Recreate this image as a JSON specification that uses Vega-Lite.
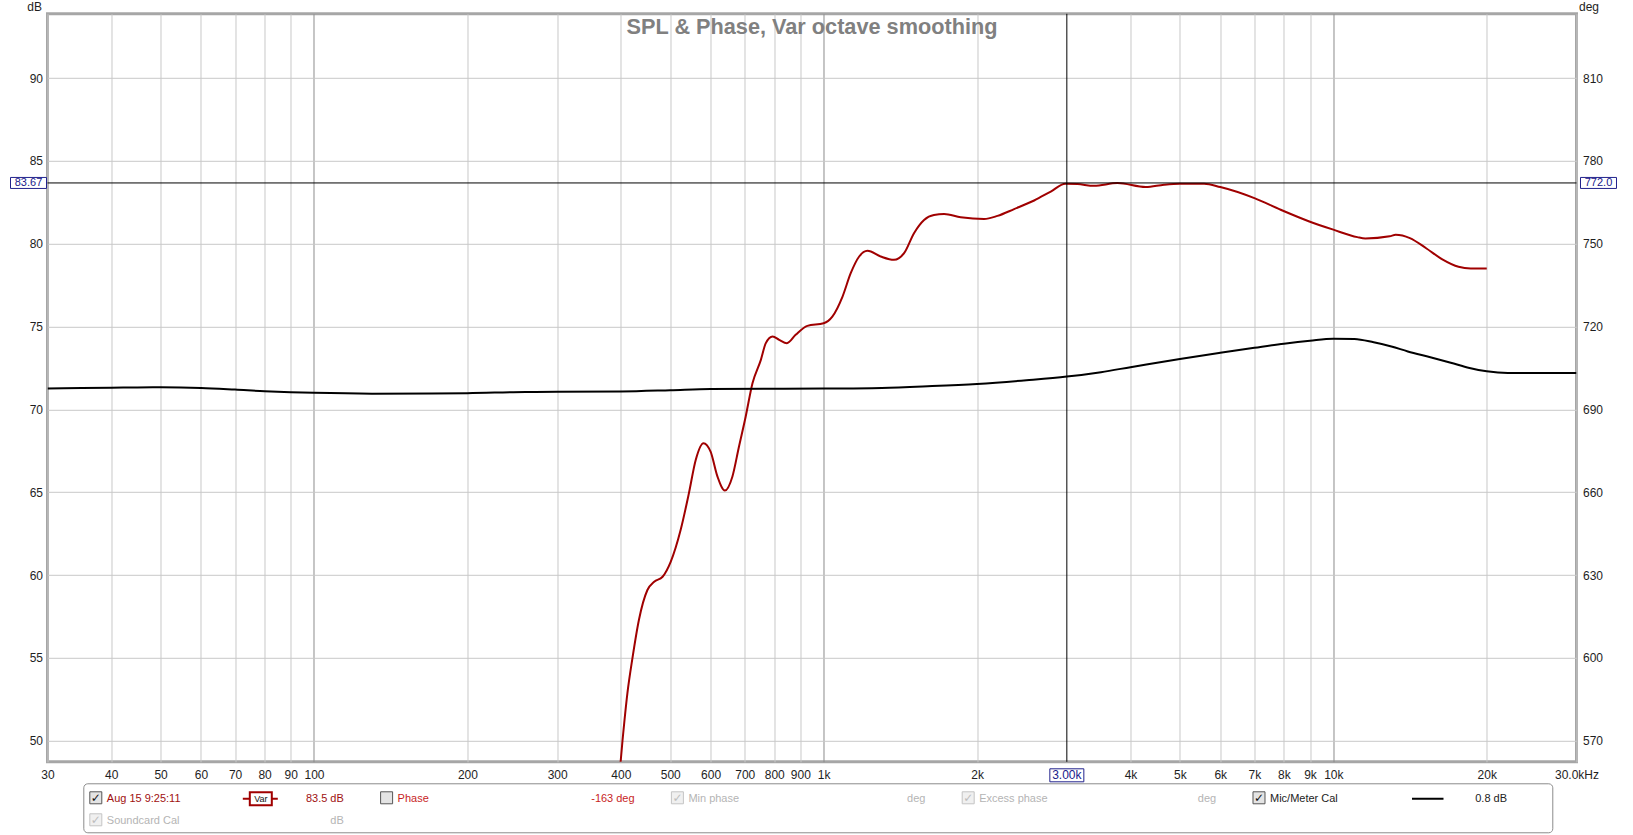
{
  "$schema": "https://vega.github.io/schema/vega-lite/v6.json",
  "background": "white",
  "padding": {"left": 6.5, "top": -1.2, "right": 0, "bottom": 0},
  "bounds": "flush",
  "spacing": 22,
  "config": {
    "font": "Liberation Sans",
    "axis": {"labelFont": "Liberation Sans", "labelFontSize": 12, "labelColor": "#1e1e1e", "titleFont": "Liberation Sans", "titleFontSize": 12, "titleFontWeight": "normal", "titleColor": "#1e1e1e", "ticks": false, "tickSize": 0, "domain": false, "gridColor": "#c8c8c8", "gridWidth": 1, "gridOpacity": 1},
    "view": {"stroke": "#a6a6a6", "strokeWidth": 3},
    "text": {"font": "Liberation Sans"}
  },
  "datasets": {
    "curves": [
      {"series": "Aug 15 9:25:11", "freq": 395, "dB": 47.0},
      {"series": "Aug 15 9:25:11", "freq": 403, "dB": 50.0},
      {"series": "Aug 15 9:25:11", "freq": 412, "dB": 52.86},
      {"series": "Aug 15 9:25:11", "freq": 421.6, "dB": 55.0},
      {"series": "Aug 15 9:25:11", "freq": 434, "dB": 57.29},
      {"series": "Aug 15 9:25:11", "freq": 451, "dB": 59.1},
      {"series": "Aug 15 9:25:11", "freq": 465, "dB": 59.6},
      {"series": "Aug 15 9:25:11", "freq": 483, "dB": 59.9},
      {"series": "Aug 15 9:25:11", "freq": 501, "dB": 60.8},
      {"series": "Aug 15 9:25:11", "freq": 524, "dB": 62.72},
      {"series": "Aug 15 9:25:11", "freq": 544, "dB": 64.94},
      {"series": "Aug 15 9:25:11", "freq": 561, "dB": 66.95},
      {"series": "Aug 15 9:25:11", "freq": 581, "dB": 67.96},
      {"series": "Aug 15 9:25:11", "freq": 600, "dB": 67.45},
      {"series": "Aug 15 9:25:11", "freq": 619, "dB": 65.94},
      {"series": "Aug 15 9:25:11", "freq": 640, "dB": 65.1},
      {"series": "Aug 15 9:25:11", "freq": 662, "dB": 65.94},
      {"series": "Aug 15 9:25:11", "freq": 682, "dB": 67.75},
      {"series": "Aug 15 9:25:11", "freq": 703, "dB": 69.56},
      {"series": "Aug 15 9:25:11", "freq": 725, "dB": 71.58},
      {"series": "Aug 15 9:25:11", "freq": 753, "dB": 72.99},
      {"series": "Aug 15 9:25:11", "freq": 770, "dB": 74.0},
      {"series": "Aug 15 9:25:11", "freq": 794, "dB": 74.4},
      {"series": "Aug 15 9:25:11", "freq": 818, "dB": 74.2},
      {"series": "Aug 15 9:25:11", "freq": 847, "dB": 74.0},
      {"series": "Aug 15 9:25:11", "freq": 881, "dB": 74.5},
      {"series": "Aug 15 9:25:11", "freq": 929, "dB": 75.04},
      {"series": "Aug 15 9:25:11", "freq": 1000, "dB": 75.2},
      {"series": "Aug 15 9:25:11", "freq": 1040, "dB": 75.6},
      {"series": "Aug 15 9:25:11", "freq": 1089, "dB": 76.81},
      {"series": "Aug 15 9:25:11", "freq": 1130, "dB": 78.22},
      {"series": "Aug 15 9:25:11", "freq": 1174, "dB": 79.23},
      {"series": "Aug 15 9:25:11", "freq": 1219, "dB": 79.57},
      {"series": "Aug 15 9:25:11", "freq": 1294, "dB": 79.23},
      {"series": "Aug 15 9:25:11", "freq": 1374, "dB": 79.03},
      {"series": "Aug 15 9:25:11", "freq": 1438, "dB": 79.43},
      {"series": "Aug 15 9:25:11", "freq": 1504, "dB": 80.64},
      {"series": "Aug 15 9:25:11", "freq": 1574, "dB": 81.44},
      {"series": "Aug 15 9:25:11", "freq": 1646, "dB": 81.74},
      {"series": "Aug 15 9:25:11", "freq": 1723, "dB": 81.79},
      {"series": "Aug 15 9:25:11", "freq": 1857, "dB": 81.6},
      {"series": "Aug 15 9:25:11", "freq": 2064, "dB": 81.49},
      {"series": "Aug 15 9:25:11", "freq": 2193, "dB": 81.68},
      {"series": "Aug 15 9:25:11", "freq": 2364, "dB": 82.09},
      {"series": "Aug 15 9:25:11", "freq": 2588, "dB": 82.61},
      {"series": "Aug 15 9:25:11", "freq": 2790, "dB": 83.15},
      {"series": "Aug 15 9:25:11", "freq": 2980, "dB": 83.62},
      {"series": "Aug 15 9:25:11", "freq": 3148, "dB": 83.6},
      {"series": "Aug 15 9:25:11", "freq": 3393, "dB": 83.5},
      {"series": "Aug 15 9:25:11", "freq": 3771, "dB": 83.66},
      {"series": "Aug 15 9:25:11", "freq": 4284, "dB": 83.42},
      {"series": "Aug 15 9:25:11", "freq": 4654, "dB": 83.56},
      {"series": "Aug 15 9:25:11", "freq": 5000, "dB": 83.62},
      {"series": "Aug 15 9:25:11", "freq": 5578, "dB": 83.62},
      {"series": "Aug 15 9:25:11", "freq": 6000, "dB": 83.42},
      {"series": "Aug 15 9:25:11", "freq": 7000, "dB": 82.75},
      {"series": "Aug 15 9:25:11", "freq": 7884, "dB": 82.05},
      {"series": "Aug 15 9:25:11", "freq": 8946, "dB": 81.36},
      {"series": "Aug 15 9:25:11", "freq": 10000, "dB": 80.85},
      {"series": "Aug 15 9:25:11", "freq": 11145, "dB": 80.4},
      {"series": "Aug 15 9:25:11", "freq": 11557, "dB": 80.32},
      {"series": "Aug 15 9:25:11", "freq": 12900, "dB": 80.45},
      {"series": "Aug 15 9:25:11", "freq": 13257, "dB": 80.54},
      {"series": "Aug 15 9:25:11", "freq": 14134, "dB": 80.34},
      {"series": "Aug 15 9:25:11", "freq": 15208, "dB": 79.73},
      {"series": "Aug 15 9:25:11", "freq": 16363, "dB": 79.06},
      {"series": "Aug 15 9:25:11", "freq": 17604, "dB": 78.61},
      {"series": "Aug 15 9:25:11", "freq": 18600, "dB": 78.51},
      {"series": "Aug 15 9:25:11", "freq": 20000, "dB": 78.51},
      {"series": "Mic/Meter Cal", "freq": 30, "dB": 71.27},
      {"series": "Mic/Meter Cal", "freq": 35, "dB": 71.29},
      {"series": "Mic/Meter Cal", "freq": 40, "dB": 71.31},
      {"series": "Mic/Meter Cal", "freq": 45, "dB": 71.33},
      {"series": "Mic/Meter Cal", "freq": 50, "dB": 71.34},
      {"series": "Mic/Meter Cal", "freq": 60, "dB": 71.3},
      {"series": "Mic/Meter Cal", "freq": 70, "dB": 71.2},
      {"series": "Mic/Meter Cal", "freq": 80, "dB": 71.1},
      {"series": "Mic/Meter Cal", "freq": 90, "dB": 71.04},
      {"series": "Mic/Meter Cal", "freq": 100, "dB": 71.0},
      {"series": "Mic/Meter Cal", "freq": 130, "dB": 70.95},
      {"series": "Mic/Meter Cal", "freq": 170, "dB": 70.96},
      {"series": "Mic/Meter Cal", "freq": 200, "dB": 70.98},
      {"series": "Mic/Meter Cal", "freq": 260, "dB": 71.05},
      {"series": "Mic/Meter Cal", "freq": 300, "dB": 71.06},
      {"series": "Mic/Meter Cal", "freq": 400, "dB": 71.08},
      {"series": "Mic/Meter Cal", "freq": 500, "dB": 71.16},
      {"series": "Mic/Meter Cal", "freq": 600, "dB": 71.24},
      {"series": "Mic/Meter Cal", "freq": 800, "dB": 71.25},
      {"series": "Mic/Meter Cal", "freq": 1000, "dB": 71.26},
      {"series": "Mic/Meter Cal", "freq": 1300, "dB": 71.3},
      {"series": "Mic/Meter Cal", "freq": 1600, "dB": 71.4},
      {"series": "Mic/Meter Cal", "freq": 2000, "dB": 71.54},
      {"series": "Mic/Meter Cal", "freq": 2500, "dB": 71.76},
      {"series": "Mic/Meter Cal", "freq": 3000, "dB": 71.98},
      {"series": "Mic/Meter Cal", "freq": 3500, "dB": 72.25},
      {"series": "Mic/Meter Cal", "freq": 4000, "dB": 72.55},
      {"series": "Mic/Meter Cal", "freq": 5000, "dB": 73.05},
      {"series": "Mic/Meter Cal", "freq": 6000, "dB": 73.42},
      {"series": "Mic/Meter Cal", "freq": 7000, "dB": 73.72},
      {"series": "Mic/Meter Cal", "freq": 8000, "dB": 73.97},
      {"series": "Mic/Meter Cal", "freq": 9000, "dB": 74.15},
      {"series": "Mic/Meter Cal", "freq": 10000, "dB": 74.27},
      {"series": "Mic/Meter Cal", "freq": 11000, "dB": 74.25},
      {"series": "Mic/Meter Cal", "freq": 12000, "dB": 74.05},
      {"series": "Mic/Meter Cal", "freq": 13000, "dB": 73.8},
      {"series": "Mic/Meter Cal", "freq": 14000, "dB": 73.5},
      {"series": "Mic/Meter Cal", "freq": 15500, "dB": 73.15},
      {"series": "Mic/Meter Cal", "freq": 17000, "dB": 72.82},
      {"series": "Mic/Meter Cal", "freq": 18500, "dB": 72.5},
      {"series": "Mic/Meter Cal", "freq": 20000, "dB": 72.3},
      {"series": "Mic/Meter Cal", "freq": 22000, "dB": 72.2},
      {"series": "Mic/Meter Cal", "freq": 30000, "dB": 72.2}
    ],
    "cursor": [{"freq": 3000, "dB": 83.67, "deg": 772.0, "freqLabel": "3.00k"}],
    "legendItems": [
      {"col": 0, "row": 0, "name": "Aug 15 9:25:11", "value": "83.5 dB", "state": "data", "check": "on", "symbol": "var"},
      {"col": 1, "row": 0, "name": "Phase", "value": "-163 deg", "state": "phase", "check": "off", "symbol": "none"},
      {"col": 2, "row": 0, "name": "Min phase", "value": "deg", "state": "disabled", "check": "on", "symbol": "none"},
      {"col": 3, "row": 0, "name": "Excess phase", "value": "deg", "state": "disabled", "check": "on", "symbol": "none"},
      {"col": 4, "row": 0, "name": "Mic/Meter Cal", "value": "0.8 dB", "state": "cal", "check": "on", "symbol": "line"},
      {"col": 0, "row": 1, "name": "Soundcard Cal", "value": "dB", "state": "disabled", "check": "on", "symbol": "none"}
    ]
  },
  "vconcat": [
    {
      "width": 1529,
      "height": 748,
      "title": {"text": "SPL & Phase, Var octave smoothing", "font": "Liberation Sans", "fontSize": 21.7, "fontWeight": "bold", "color": "#808080", "anchor": "middle", "frame": "group", "offset": -38},
      "layer": [
        {
          "layer": [
            {
              "data": {"name": "curves"},
              "mark": {"type": "line", "clip": true, "interpolate": "monotone", "strokeWidth": 2},
              "encoding": {
                "x": {"field": "freq", "type": "quantitative", "scale": {"type": "log", "domain": [30, 30000], "nice": false},
                  "axis": {"title": null, "values": [30, 40, 50, 60, 70, 80, 90, 100, 200, 300, 400, 500, 600, 700, 800, 900, 1000, 2000, 4000, 5000, 6000, 7000, 8000, 9000, 10000, 20000, 30000], "grid": true,
                    "gridColor": {"condition": {"test": "datum.value == 100 || datum.value == 1000 || datum.value == 10000", "value": "#8c8c8c"}, "value": "#c8c8c8"},
                    "labelExpr": "datum.value >= 30000 ? '30.0kHz' : (datum.value >= 1000 ? (datum.value / 1000) + 'k' : '' + datum.value)",
                    "labelFlush": false, "labelOverlap": false, "labelBound": false, "labelPadding": 8}},
                "y": {"field": "dB", "type": "quantitative", "scale": {"domain": [48.73, 93.88], "nice": false, "zero": false},
                  "axis": {"orient": "left", "values": [50, 55, 60, 65, 70, 75, 80, 85, 90], "grid": true, "title": "dB", "titleAngle": 0, "titleAlign": "right", "titleBaseline": "alphabetic", "titleX": -6, "titleY": -3.5, "labelPadding": 5}},
                "color": {"field": "series", "type": "nominal", "scale": {"domain": ["Aug 15 9:25:11", "Mic/Meter Cal"], "range": ["#a00000", "#000000"]}, "legend": null}
              }
            },
            {
              "data": {"name": "cursor"},
              "mark": {"type": "rule", "color": "#000000", "strokeWidth": 1},
              "encoding": {"x": {"field": "freq", "type": "quantitative"}}
            },
            {
              "data": {"name": "cursor"},
              "mark": {"type": "rule", "color": "#000000", "strokeWidth": 1},
              "encoding": {"y": {"field": "dB", "type": "quantitative"}}
            },
            {
              "data": {"name": "cursor"},
              "mark": {"type": "point", "shape": "M-37,-5.5H-1V5.5H-37Z", "size": 4, "filled": true, "fill": "white", "stroke": "#20208c", "strokeWidth": 1, "opacity": 1},
              "encoding": {"x": {"datum": 30, "type": "quantitative"}, "y": {"field": "dB", "type": "quantitative"}}
            },
            {
              "data": {"name": "cursor"},
              "mark": {"type": "text", "dx": -19, "align": "center", "baseline": "middle", "fontSize": 11, "color": "#20208c"},
              "encoding": {"x": {"datum": 30, "type": "quantitative"}, "y": {"field": "dB", "type": "quantitative"}, "text": {"field": "dB", "type": "quantitative", "format": ".2f"}}
            },
            {
              "data": {"name": "cursor"},
              "mark": {"type": "point", "shape": "M4,-5.5H40V5.5H4Z", "size": 4, "filled": true, "fill": "white", "stroke": "#20208c", "strokeWidth": 1, "opacity": 1},
              "encoding": {"x": {"datum": 30000, "type": "quantitative"}, "y": {"field": "dB", "type": "quantitative"}}
            },
            {
              "data": {"name": "cursor"},
              "mark": {"type": "text", "dx": 22, "align": "center", "baseline": "middle", "fontSize": 11, "color": "#20208c"},
              "encoding": {"x": {"datum": 30000, "type": "quantitative"}, "y": {"field": "dB", "type": "quantitative"}, "text": {"field": "deg", "type": "quantitative", "format": ".1f"}}
            },
            {
              "data": {"name": "cursor"},
              "mark": {"type": "point", "shape": "M-17,7H17V20H-17Z", "size": 4, "filled": true, "fill": "white", "stroke": "#20208c", "strokeWidth": 1, "opacity": 1},
              "encoding": {"x": {"field": "freq", "type": "quantitative"}, "y": {"datum": 48.73, "type": "quantitative"}}
            },
            {
              "data": {"name": "cursor"},
              "mark": {"type": "text", "dy": 13.5, "align": "center", "baseline": "middle", "fontSize": 12, "color": "#20208c"},
              "encoding": {"x": {"field": "freq", "type": "quantitative"}, "y": {"datum": 48.73, "type": "quantitative"}, "text": {"field": "freqLabel", "type": "nominal"}}
            }
          ]
        },
        {
          "data": {"name": "cursor"},
          "mark": {"type": "rule", "opacity": 0},
          "encoding": {
            "y": {"field": "deg", "type": "quantitative", "scale": {"domain": [562.38, 833.28], "nice": false, "zero": false},
              "axis": {"orient": "right", "values": [570, 600, 630, 660, 690, 720, 750, 780, 810], "grid": false, "title": "deg", "titleAngle": 0, "titleAlign": "left", "titleBaseline": "alphabetic", "titleX": 2, "titleY": -3.5, "labelPadding": 6}}
          }
        }
      ],
      "resolve": {"scale": {"y": "independent"}, "axis": {"y": "independent"}}
    },
    {
      "width": 1510,
      "height": 49,
      "view": {"stroke": null},
      "data": {"name": "legendItems"},
      "encoding": {
        "x": {"field": "col", "type": "quantitative", "scale": {"domain": [-0.16609, 5.02648], "nice": false, "zero": false}, "axis": null},
        "y": {"field": "row", "type": "quantitative", "scale": {"domain": [-0.6818, 1.5455], "reverse": true, "nice": false, "zero": false}, "axis": null}
      },
      "layer": [
        {
          "transform": [{"aggregate": [{"op": "min", "field": "col", "as": "c0"}, {"op": "max", "field": "col", "as": "c1"}, {"op": "min", "field": "row", "as": "r0"}, {"op": "max", "field": "row", "as": "r1"}]}],
          "mark": {"type": "rect", "fill": "white", "stroke": "#8c8c8c", "strokeWidth": 1, "cornerRadius": 4, "xOffset": -12, "x2Offset": 293.8, "yOffset": -15, "y2Offset": 12},
          "encoding": {
            "x": {"field": "c0", "type": "quantitative"},
            "x2": {"field": "c1"},
            "y": {"field": "r0", "type": "quantitative"},
            "y2": {"field": "r1"}
          }
        },
        {
          "mark": {"type": "point", "shape": "M-6,-6H6V6H-6Z", "size": 4, "filled": true, "strokeWidth": 1, "opacity": 1, "yOffset": -1},
          "encoding": {
            "fill": {"condition": {"test": "datum.state === 'disabled'", "value": "#f0f0f0"}, "value": "#e4e4e4"},
            "stroke": {"condition": {"test": "datum.state === 'disabled'", "value": "#c4c4c4"}, "value": "#555555"}
          }
        },
        {
          "transform": [{"filter": "datum.check === 'on'"}],
          "mark": {"type": "text", "text": "✓", "font": "DejaVu Sans", "fontSize": 12, "fontWeight": "bold", "align": "center", "baseline": "middle", "dy": -1},
          "encoding": {
            "color": {"condition": {"test": "datum.state === 'disabled'", "value": "#bdbdbd"}, "value": "#111111"}
          }
        },
        {
          "mark": {"type": "text", "align": "left", "baseline": "middle", "dx": 11, "fontSize": 11},
          "encoding": {
            "text": {"field": "name", "type": "nominal"},
            "color": {"condition": [{"test": "datum.state === 'disabled'", "value": "#b4b4b4"}, {"test": "datum.state === 'cal'", "value": "#222222"}, {"test": "datum.state === 'phase'", "value": "#c81e1e"}], "value": "#a01010"}
          }
        },
        {
          "mark": {"type": "text", "align": "right", "baseline": "middle", "dx": 248, "fontSize": 11},
          "encoding": {
            "text": {"field": "value", "type": "nominal"},
            "color": {"condition": [{"test": "datum.state === 'disabled'", "value": "#b4b4b4"}, {"test": "datum.state === 'cal'", "value": "#222222"}, {"test": "datum.state === 'phase'", "value": "#c81e1e"}], "value": "#a01010"}
          }
        },
        {
          "transform": [{"filter": "datum.symbol === 'var'"}],
          "mark": {"type": "point", "shape": "M147,0H182", "size": 4, "filled": false, "stroke": "#a00000", "strokeWidth": 2, "opacity": 1},
          "encoding": {}
        },
        {
          "transform": [{"filter": "datum.symbol === 'var'"}],
          "mark": {"type": "point", "shape": "M154,-6.5H176V6.5H154Z", "size": 4, "filled": true, "fill": "white", "stroke": "#a00000", "strokeWidth": 2, "opacity": 1},
          "encoding": {}
        },
        {
          "transform": [{"filter": "datum.symbol === 'var'"}],
          "mark": {"type": "text", "text": "Var", "align": "center", "baseline": "middle", "dx": 165, "fontSize": 9, "color": "#111111"},
          "encoding": {}
        },
        {
          "transform": [{"filter": "datum.symbol === 'line'"}],
          "mark": {"type": "point", "shape": "M153,0H184.5", "size": 4, "filled": false, "stroke": "#000000", "strokeWidth": 2, "opacity": 1},
          "encoding": {}
        }
      ]
    }
  ]
}
